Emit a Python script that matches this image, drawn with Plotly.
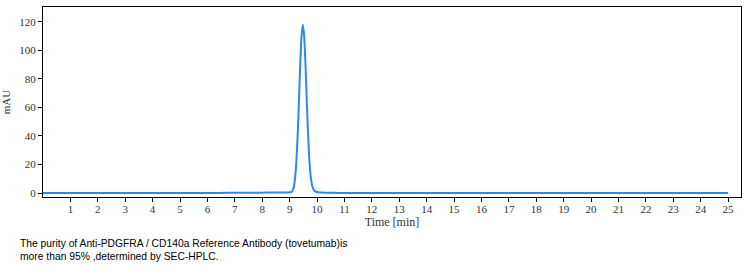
import plotly.graph_objects as go

# Retention time (min) and absorbance (mAU)
time_min = [0.0, 1.0, 2.0, 3.0, 4.0, 5.0, 6.0, 6.8, 7.0, 7.3, 8.0, 8.2, 8.5, 8.8,
            9.0, 9.08, 9.13, 9.18, 9.23, 9.28, 9.33, 9.38, 9.43, 9.48, 9.53, 9.58,
            9.63, 9.68, 9.73, 9.78, 9.83, 9.88, 9.95, 10.05, 10.3, 10.6, 11.0,
            12.0, 14.0, 16.0, 18.0, 20.0, 22.0, 24.0, 25.0]
absorbance = [0.0, 0.0, 0.0, 0.0, 0.0, 0.0, 0.0, 0.1, 0.2, 0.1, 0.2, 0.4, 0.4, 0.3,
              0.5, 0.9, 2.8, 7.5, 17.5, 35.0, 59.0, 87.0, 109.0, 118.0, 110.0, 89.0,
              62.0, 38.0, 20.0, 10.0, 4.5, 2.2, 1.0, 0.5, 0.2, 0.1, 0.05,
              0.0, 0.0, 0.0, 0.0, 0.0, 0.0, 0.0, 0.0]

x_ticks = list(range(1, 26))
y_ticks = [0, 20, 40, 60, 80, 100, 120]

caption = ("The purity of Anti-PDGFRA / CD140a Reference Antibody (tovetumab)is<br>"
           "more than 95% ,determined by SEC-HPLC.")

fig = go.Figure()
fig.add_trace(go.Scatter(
    x=time_min, y=absorbance, mode="lines",
    line=dict(color="#2f8ae5", width=2, shape="spline", smoothing=0.6),
    hoverinfo="skip", showlegend=False,
))

tick_font = dict(family="Liberation Serif, DejaVu Serif, serif", size=11, color="#333333")

fig.update_layout(
    width=748, height=272,
    margin=dict(l=40, r=7, t=6, b=75),
    paper_bgcolor="white", plot_bgcolor="white",
    xaxis=dict(
        range=[0, 25.47], tickvals=x_ticks, ticks="outside", ticklen=4,
        tickcolor="black", showline=True, linecolor="black", linewidth=1,
        mirror=True, showgrid=False, zeroline=False, tickfont=tick_font,
        ticklabelstandoff=-2,
        title=dict(text="Time [min]", font=dict(family="Liberation Serif, serif",
                   size=12, color="#333333"), standoff=0),
    ),
    yaxis=dict(
        range=[-2.8, 130.5], tickvals=y_ticks, ticks="outside", ticklen=4,
        tickcolor="black", showline=True, linecolor="black", linewidth=1,
        mirror=True, showgrid=False, zeroline=False, tickfont=tick_font,
        title=dict(text="mAU", font=dict(family="Liberation Serif, serif",
                   size=11, color="#333333"), standoff=6),
    ),
    annotations=[dict(
        text=caption, xref="paper", yref="paper", x=-0.0357, y=-0.205,
        xanchor="left", yanchor="top", align="left", showarrow=False,
        font=dict(family="Liberation Sans, Arial, sans-serif", size=10.3, color="#000000"),
    )],
)

fig.write_html("out.html")
